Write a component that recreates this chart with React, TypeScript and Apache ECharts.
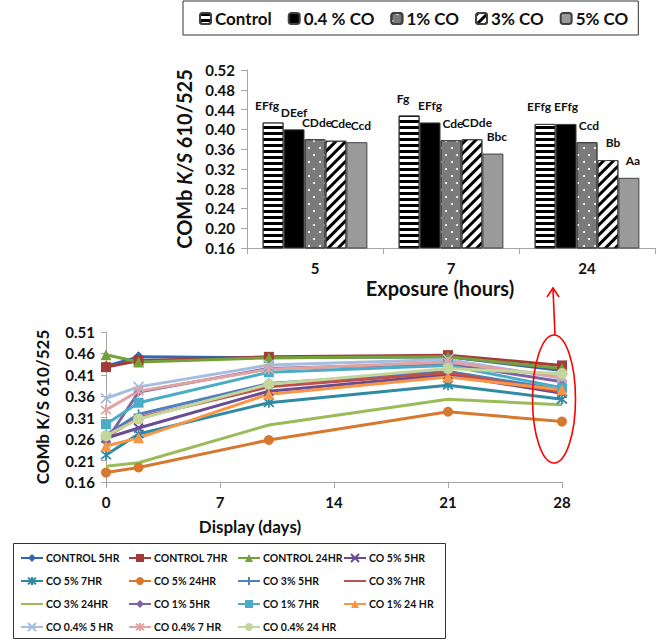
import React, { useEffect, useRef } from "react";
import * as echarts from "echarts";

// ---------- Top bar chart data ----------
const exposureCats = ["5", "7", "24"];
const barNames = ["Control", "0.4 % CO", "1% CO", "3% CO", "5% CO"];
const controlBar = [0.414, 0.428, 0.411];
const co04Bar = [0.4, 0.414, 0.411];
const co1Bar = [0.38, 0.378, 0.374];
const co3Bar = [0.377, 0.38, 0.338];
const co5Bar = [0.374, 0.351, 0.302];
const controlLetters = ["EFfg", "Fg", "EFfg"];
const co04Letters = ["DEef", "EFfg", "EFfg"];
const co1Letters = ["CDde", "Cde", "Ccd"];
const co3Letters = ["Cde", "CDde", "Bb"];
const co5Letters = ["Ccd", "Bbc", "Aa"];

// ---------- Bottom line chart data ----------
const displayDays = [0, 2, 10, 21, 28];
const lineYTicks = [0.16, 0.21, 0.26, 0.31, 0.36, 0.41, 0.46, 0.51];
const lineNames = [
  "CONTROL 5HR", "CONTROL 7HR", "CONTROL 24HR", "CO 5% 5HR",
  "CO 5% 7HR", "CO 5% 24HR", "CO 3% 5HR", "CO 3% 7HR",
  "CO 3% 24HR", "CO 1% 5HR", "CO 1% 7HR", "CO 1% 24 HR",
  "CO 0.4% 5 HR", "CO 0.4% 7 HR", "CO 0.4% 24 HR",
];
const control5hr = [0.43, 0.452, 0.45, 0.452, 0.42];
const control7hr = [0.428, 0.443, 0.452, 0.456, 0.432];
const control24hr = [0.457, 0.44, 0.45, 0.452, 0.425];
const co5_5hr = [0.262, 0.286, 0.372, 0.41, 0.367];
const co5_7hr = [0.223, 0.272, 0.345, 0.386, 0.353];
const co5_24hr = [0.182, 0.194, 0.258, 0.324, 0.301];
const co3_5hr = [0.27, 0.318, 0.39, 0.418, 0.375];
const co3_7hr = [0.265, 0.31, 0.382, 0.415, 0.37];
const co3_24hr = [0.197, 0.205, 0.293, 0.353, 0.34];
const co1_5hr = [0.255, 0.37, 0.425, 0.436, 0.394];
const co1_7hr = [0.295, 0.345, 0.416, 0.432, 0.38];
const co1_24hr = [0.244, 0.263, 0.365, 0.405, 0.375];
const co04_5hr = [0.355, 0.382, 0.433, 0.446, 0.402];
const co04_7hr = [0.328, 0.372, 0.423, 0.44, 0.405];
const co04_24hr = [0.268, 0.307, 0.388, 0.425, 0.413];

const lineValues = [
  control5hr, control7hr, control24hr, co5_5hr, co5_7hr, co5_24hr,
  co3_5hr, co3_7hr, co3_24hr, co1_5hr, co1_7hr, co1_24hr,
  co04_5hr, co04_7hr, co04_24hr,
];

const FONT = "Lato";
const X_PATH = "path://M0,0L10,10M10,0L0,10";
const STAR_PATH = "path://M0,0L10,10M10,0L0,10M5,-1L5,11";
const PLUS_PATH = "path://M0,5L10,5M5,0L5,10";

const lineStyles = [
  { color: "#3566AE", symbol: "diamond", size: 11 },
  { color: "#A33B38", symbol: "rect", size: 10 },
  { color: "#76A13A", symbol: "triangle", size: 11 },
  { color: "#6A4C93", symbol: X_PATH, size: 9, stroke: true },
  { color: "#2F8AA3", symbol: STAR_PATH, size: 10, stroke: true },
  { color: "#D7782F", symbol: "circle", size: 10 },
  { color: "#4F81BD", symbol: PLUS_PATH, size: 10, stroke: true },
  { color: "#C0504D", symbol: "none", size: 0 },
  { color: "#9BBB59", symbol: "none", size: 0 },
  { color: "#8064A2", symbol: "diamond", size: 10 },
  { color: "#4BACC6", symbol: "rect", size: 10 },
  { color: "#F79646", symbol: "triangle", size: 11 },
  { color: "#A5BDE0", symbol: X_PATH, size: 10, stroke: true },
  { color: "#E0A3A2", symbol: STAR_PATH, size: 10, stroke: true },
  { color: "#C3D69B", symbol: "circle", size: 11 },
];

export default function App() {
  const ref = useRef<HTMLDivElement>(null);

  useEffect(() => {
    if (!ref.current) return;
    const chart = echarts.init(ref.current, null, { renderer: "svg" });

    const barData = [controlBar, co04Bar, co1Bar, co3Bar, co5Bar];
    const barLetters = [controlLetters, co04Letters, co1Letters, co3Letters, co5Letters];
    const labelShiftX = [-6, 0, 2, 5, 4];
    const barItemStyles: any[] = [
      {
        color: "#ffffff",
        decal: { symbol: "rect", symbolSize: 1, dashArrayX: [1, 0], dashArrayY: [3, 3], rotation: 0, color: "#000000" },
      },
      { color: "#000000" },
      {
        color: "#7a7a7a",
        decal: { symbol: "circle", symbolSize: 1, dashArrayX: [[1.5, 8.5], [0, 5, 1.5, 3.5]], dashArrayY: [1.5, 4.5], color: "#ffffff" },
      },
      {
        color: "#ffffff",
        decal: { symbol: "rect", symbolSize: 1, dashArrayX: [1, 0], dashArrayY: [3, 4], rotation: -Math.PI / 4, color: "#000000" },
      },
      { color: "#9a9a9a" },
    ];

    const barSeries = barNames.map((name, si) => ({
      name,
      type: "bar",
      xAxisIndex: 0,
      yAxisIndex: 0,
      barGap: "0%",
      barCategoryGap: "23%",
      data: barData[si],
      itemStyle: { ...barItemStyles[si], borderColor: "#404040", borderWidth: 1 },
      label: {
        show: true,
        position: "top",
        distance: 11,
        offset: [labelShiftX[si], 0],
        fontFamily: FONT,
        fontWeight: "bold",
        fontSize: 12,
        color: "#111",
        formatter: (p: any) => barLetters[si][p.dataIndex],
      },
    }));

    const lineSeries = lineNames.map((name, i) => {
      const st = lineStyles[i];
      return {
        name,
        type: "line",
        xAxisIndex: 1,
        yAxisIndex: 1,
        data: displayDays.map((d, j) => [d, lineValues[i][j]]),
        symbol: st.symbol,
        symbolSize: st.size,
        showSymbol: st.symbol !== "none",
        lineStyle: { color: st.color, width: 3 },
        itemStyle: st.stroke
          ? { color: st.color, borderColor: st.color, borderWidth: 1.8 }
          : { color: st.color, borderWidth: 0 },
      };
    });

    // four legend columns, items in row-major order
    const columnLefts = [20, 128, 237, 343];
    const lineLegends = columnLefts.map((left, c) => ({
      data: lineNames
        .map((name, i) => ({ name, i }))
        .filter((d) => d.i % 4 === c)
        .map((d) =>
          lineStyles[d.i].symbol === "none"
            ? { name: d.name, itemStyle: { opacity: 0 } }
            : { name: d.name }
        ),
      left,
      top: 550,
      orient: "vertical",
      padding: 0,
      itemWidth: 22,
      itemHeight: 10,
      itemGap: 7,
      selectedMode: false,
      textStyle: {
        fontFamily: FONT, fontWeight: "bold", fontSize: 10.5, color: "#111",
        lineHeight: 16, padding: [0, 0, 0, -2],
      },
    }));

    const axisLineStyle = { lineStyle: { color: "#a6a6a6", width: 1 } };
    const axisLabelStyle = { fontFamily: FONT, fontWeight: "bold", fontSize: 15, color: "#111" };

    chart.setOption({
      animation: false,
      backgroundColor: "#ffffff",
      textStyle: { fontFamily: FONT },
      grid: [
        { left: 247, top: 70, width: 408, height: 178 },
        { left: 106, top: 332, width: 456, height: 150 },
      ],
      legend: [
        {
          data: barNames,
          left: 183,
          top: 1,
          orient: "horizontal",
          padding: [9, 10, 8, 16],
          itemWidth: 11,
          itemHeight: 11,
          itemGap: 16,
          borderColor: "#333",
          borderWidth: 1,
          selectedMode: false,
          textStyle: { fontFamily: FONT, fontWeight: "bold", fontSize: 17, color: "#111", padding: [0, 0, 0, -1] },
        },
        ...lineLegends,
      ],
      xAxis: [
        {
          type: "category",
          gridIndex: 0,
          data: exposureCats,
          axisLine: axisLineStyle,
          axisTick: { show: true, length: 6, lineStyle: { color: "#a6a6a6" } },
          axisLabel: { ...axisLabelStyle, margin: 12 },
          name: "Exposure (hours)",
          nameLocation: "middle",
          nameGap: 30,
          nameTextStyle: { fontFamily: FONT, fontWeight: "bold", fontSize: 20, color: "#111", padding: [0, 22, 0, 0] },
        },
        {
          type: "value",
          gridIndex: 1,
          min: 0,
          max: 28,
          interval: 7,
          axisLine: axisLineStyle,
          axisTick: { show: true, length: 6, lineStyle: { color: "#a6a6a6" } },
          splitLine: { show: false },
          axisLabel: { ...axisLabelStyle, margin: 12 },
          name: "Display (days)",
          nameLocation: "middle",
          nameGap: 36,
          nameTextStyle: { fontFamily: FONT, fontWeight: "bold", fontSize: 17, color: "#111", padding: [0, 168, 0, 0] },
        },
      ],
      yAxis: [
        {
          type: "value",
          gridIndex: 0,
          min: 0.16,
          max: 0.52,
          interval: 0.04,
          axisLine: { show: true, ...axisLineStyle },
          axisTick: { show: true, length: 6, lineStyle: { color: "#a6a6a6" } },
          splitLine: { show: false },
          axisLabel: { ...axisLabelStyle, margin: 12, formatter: (v: number) => v.toFixed(2) },
          name: "{a|COMb }{b|K/S}{a| 610/525}",
          nameLocation: "middle",
          nameGap: 49,
          nameTextStyle: {
            rich: {
              a: { fontFamily: FONT, fontWeight: "bold", fontSize: 20, color: "#111" },
              b: { fontFamily: FONT, fontWeight: "bold", fontStyle: "italic", fontSize: 20, color: "#111" },
            },
          },
        },
        {
          type: "value",
          gridIndex: 1,
          min: 0.16,
          max: 0.51,
          axisLine: { show: true, ...axisLineStyle },
          axisTick: { show: true, length: 5, lineStyle: { color: "#a6a6a6" }, customValues: lineYTicks },
          splitLine: { show: false },
          axisLabel: { ...axisLabelStyle, margin: 11, customValues: lineYTicks, formatter: (v: number) => v.toFixed(2) },
          name: "COMb K/S 610/525",
          nameLocation: "middle",
          nameGap: 55,
          nameTextStyle: { fontFamily: FONT, fontWeight: "bold", fontSize: 17, color: "#111" },
        },
      ],
      series: [...barSeries, ...lineSeries],
      graphic: [
        {
          type: "rect",
          shape: { x: 13.5, y: 543.5, width: 432, height: 95 },
          style: { fill: "none", stroke: "#333", lineWidth: 1 },
        },
        {
          type: "ellipse",
          shape: { cx: 554, cy: 399, rx: 21.5, ry: 64 },
          style: { fill: "none", stroke: "#ff0000", lineWidth: 1.6 },
          z: 100,
        },
        {
          type: "line",
          shape: { x1: 555, y1: 335, x2: 553, y2: 289 },
          style: { stroke: "#ff0000", lineWidth: 1.6 },
          z: 100,
        },
        {
          type: "polyline",
          shape: { points: [[547, 297], [553, 288], [559, 297]] },
          style: { fill: "none", stroke: "#ff0000", lineWidth: 1.6 },
          z: 100,
        },
      ],
    });

    return () => chart.dispose();
  }, []);

  return (
    <div
      ref={ref}
      style={{ position: "absolute", left: 0, top: 0, width: 666, height: 640 }}
    />
  );
}
